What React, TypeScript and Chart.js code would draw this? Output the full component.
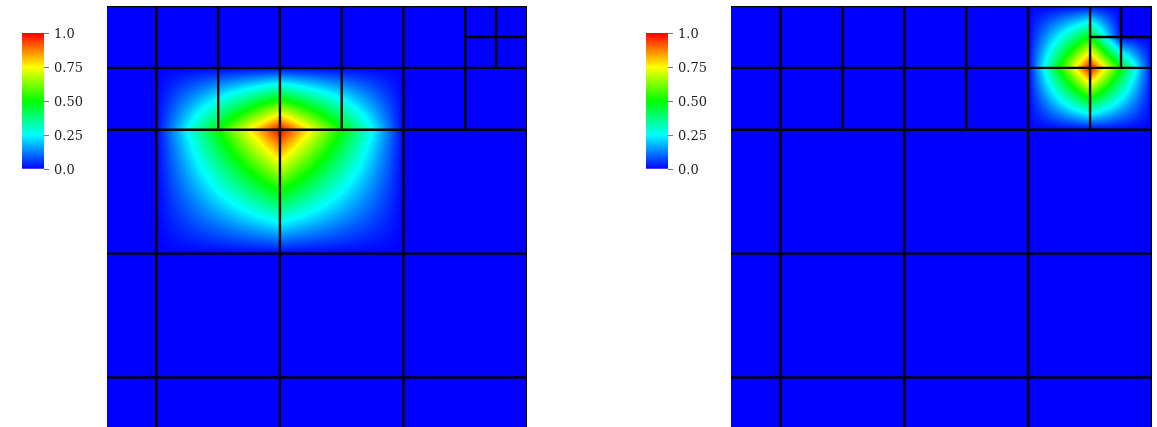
import React, { useEffect, useRef } from 'react';
import { Chart, registerables } from 'chart.js';

Chart.register(...registerables);

// ---- data ----
const VIEW_MIN = 0.6;
const VIEW_MAX = 4;

const CB_TICK_VALUES = [0, 0.25, 0.5, 0.75, 1];
const CB_TICK_LABELS = ['0.0', '0.25', '0.50', '0.75', '1.0'];

const CMAP_POS = [0, 0.25, 0.5, 0.75, 1];
const CMAP_RGB = [
  [0, 0, 255],
  [0, 255, 255],
  [0, 255, 0],
  [255, 255, 0],
  [255, 0, 0],
];

// vertical mesh segments: [x, y0, y1]
const MESH_VERTICAL = [
  [0, 0, 4], [1, 0, 4], [2, 0, 4], [3, 0, 4], [4, 0, 4],
  [0.5, 3, 4], [1.5, 3, 4], [2.5, 3, 4], [3.5, 3, 4],
  [3.75, 3.5, 4],
];
// horizontal mesh segments: [y, x0, x1]
const MESH_HORIZONTAL = [
  [0, 0, 4], [1, 0, 4], [2, 0, 4], [3, 0, 4], [4, 0, 4],
  [3.5, 0, 4],
  [3.75, 3.5, 4],
];

// field cells: [x0, x1, y0, y1, v(x0,y0), v(x1,y0), v(x0,y1), v(x1,y1)]
const LEFT_FIELD_CELLS = [
  [1, 2, 2, 3, 0, 0, 0, 1],
  [2, 3, 2, 3, 0, 0, 1, 0],
  [1, 1.5, 3, 3.5, 0, 0.5, 0, 0],
  [1.5, 2, 3, 3.5, 0.5, 1, 0, 0],
  [2, 2.5, 3, 3.5, 1, 0.5, 0, 0],
  [2.5, 3, 3, 3.5, 0.5, 0, 0, 0],
];
const RIGHT_FIELD_CELLS = [
  [3, 3.5, 3, 3.5, 0, 0, 0, 1],
  [3.5, 4, 3, 3.5, 0, 0, 1, 0],
  [3, 3.5, 3.5, 4, 0, 1, 0, 0],
  [3.5, 3.75, 3.5, 3.75, 1, 0.5, 0.5, 0],
  [3.75, 4, 3.5, 3.75, 0.5, 0, 0, 0],
  [3.5, 3.75, 3.75, 4, 0.5, 0, 0, 0],
  [3.75, 4, 3.75, 4, 0, 0, 0, 0],
];

// ---- helpers ----
function cmap(v: number): number[] {
  const t = Math.max(0, Math.min(1, v));
  for (let i = 1; i < CMAP_POS.length; i++) {
    if (t <= CMAP_POS[i]) {
      const f = (t - CMAP_POS[i - 1]) / (CMAP_POS[i] - CMAP_POS[i - 1]);
      const a = CMAP_RGB[i - 1];
      const b = CMAP_RGB[i];
      return [a[0] + (b[0] - a[0]) * f, a[1] + (b[1] - a[1]) * f, a[2] + (b[2] - a[2]) * f];
    }
  }
  return CMAP_RGB[CMAP_RGB.length - 1];
}

function rgbStr(c: number[]) {
  return `rgb(${c[0]},${c[1]},${c[2]})`;
}

function makeFieldPlugin(cells: number[][]) {
  return {
    id: 'fieldImage',
    beforeDatasetsDraw(chart: any) {
      const { ctx, chartArea, scales } = chart;
      const xs = scales.x;
      const ys = scales.y;
      const left = Math.round(chartArea.left);
      const top = Math.round(chartArea.top);
      const w = Math.round(chartArea.right) - left;
      const h = Math.round(chartArea.bottom) - top;
      const img = ctx.createImageData(w, h);
      const d = img.data;
      const xv = new Float64Array(w);
      for (let i = 0; i < w; i++) xv[i] = xs.getValueForPixel(left + i + 0.5);
      for (let j = 0; j < h; j++) {
        const yv = ys.getValueForPixel(top + j + 0.5);
        for (let i = 0; i < w; i++) {
          const x = xv[i];
          let v = 0;
          for (let k = 0; k < cells.length; k++) {
            const c = cells[k];
            if (x >= c[0] && x <= c[1] && yv >= c[2] && yv <= c[3]) {
              const s = (x - c[0]) / (c[1] - c[0]);
              const t = (yv - c[2]) / (c[3] - c[2]);
              v = c[4] * (1 - s) * (1 - t) + c[5] * s * (1 - t) + c[6] * (1 - s) * t + c[7] * s * t;
              break;
            }
          }
          const col = cmap(v);
          const p = (j * w + i) * 4;
          d[p] = col[0];
          d[p + 1] = col[1];
          d[p + 2] = col[2];
          d[p + 3] = 255;
        }
      }
      ctx.putImageData(img, left, top);
    },
  };
}

function meshDatasets() {
  const segs: { x: number; y: number }[][] = [];
  MESH_VERTICAL.forEach(([x, y0, y1]) => segs.push([{ x, y: y0 }, { x, y: y1 }]));
  MESH_HORIZONTAL.forEach(([y, x0, x1]) => segs.push([{ x: x0, y }, { x: x1, y }]));
  return segs.map((data) => ({
    data,
    showLine: true,
    borderColor: '#000000',
    borderWidth: 2.4,
    pointRadius: 0,
    pointHoverRadius: 0,
    fill: false,
  }));
}

// ---- components ----
function FieldChart(props: { cells: number[][]; left: number; width: number; padLeft: number; padRight: number }) {
  const ref = useRef<HTMLCanvasElement>(null);
  useEffect(() => {
    if (!ref.current) return;
    const chart = new Chart(ref.current, {
      type: 'scatter',
      data: { datasets: meshDatasets() as any },
      options: {
        responsive: false,
        animation: false,
        events: [],
        layout: { padding: { left: props.padLeft, right: props.padRight, top: 6, bottom: 0 } },
        plugins: { legend: { display: false }, tooltip: { enabled: false } },
        scales: {
          x: { type: 'linear', min: VIEW_MIN, max: VIEW_MAX, display: false },
          y: { type: 'linear', min: VIEW_MIN, max: VIEW_MAX, display: false },
        },
      },
      plugins: [makeFieldPlugin(props.cells)],
    } as any);
    return () => chart.destroy();
  }, []);
  return (
    <canvas
      ref={ref}
      width={props.width}
      height={427}
      style={{ position: 'absolute', left: props.left, top: 0, width: props.width, height: 427 }}
    />
  );
}

function ColorBar(props: { left: number }) {
  const ref = useRef<HTMLCanvasElement>(null);
  useEffect(() => {
    if (!ref.current) return;
    const chart = new Chart(ref.current, {
      type: 'bar',
      data: {
        labels: [''],
        datasets: [
          {
            data: [1],
            borderWidth: 0,
            barPercentage: 1,
            categoryPercentage: 1,
            backgroundColor: (c: any) => {
              const ch = c.chart;
              if (!ch.chartArea) return 'blue';
              const y0 = ch.scales.y.getPixelForValue(0);
              const y1 = ch.scales.y.getPixelForValue(1);
              const g = ch.ctx.createLinearGradient(0, y0, 0, y1);
              CMAP_POS.forEach((p, i) => g.addColorStop(p, rgbStr(CMAP_RGB[i])));
              return g;
            },
          },
        ],
      },
      options: {
        responsive: false,
        animation: false,
        events: [],
        layout: { padding: { left: 22, top: 33, right: 0, bottom: 31 } },
        plugins: { legend: { display: false }, tooltip: { enabled: false } },
        scales: {
          x: { display: false },
          y: {
            position: 'right',
            min: 0,
            max: 1,
            afterBuildTicks: (s: any) => {
              s.ticks = CB_TICK_VALUES.map((v) => ({ value: v }));
            },
            afterFit: (s: any) => {
              s.width = 66;
            },
            ticks: {
              callback: (v: any) => CB_TICK_LABELS[CB_TICK_VALUES.indexOf(Number(v))],
              font: { family: 'DejaVu Serif', size: 13 },
              color: '#1e1e1e',
              padding: 5,
              labelOffset: 1.5,
            },
            grid: { drawOnChartArea: false, drawTicks: true, tickLength: 5, color: '#777777', lineWidth: 1 },
            border: { display: false },
          },
        },
      },
    } as any);
    return () => chart.destroy();
  }, []);
  return (
    <canvas
      ref={ref}
      width={110}
      height={200}
      style={{ position: 'absolute', left: props.left, top: 0, width: 110, height: 200 }}
    />
  );
}

export default function App() {
  return (
    <div
      style={{
        position: 'fixed',
        left: 0,
        top: 0,
        width: 1157,
        height: 427,
        overflow: 'hidden',
        background: '#ffffff',
      }}
    >
      <ColorBar left={0} />
      <FieldChart cells={LEFT_FIELD_CELLS} left={100} width={434} padLeft={7} padRight={7} />
      <ColorBar left={624} />
      <FieldChart cells={RIGHT_FIELD_CELLS} left={724} width={433} padLeft={7} padRight={5} />
    </div>
  );
}
